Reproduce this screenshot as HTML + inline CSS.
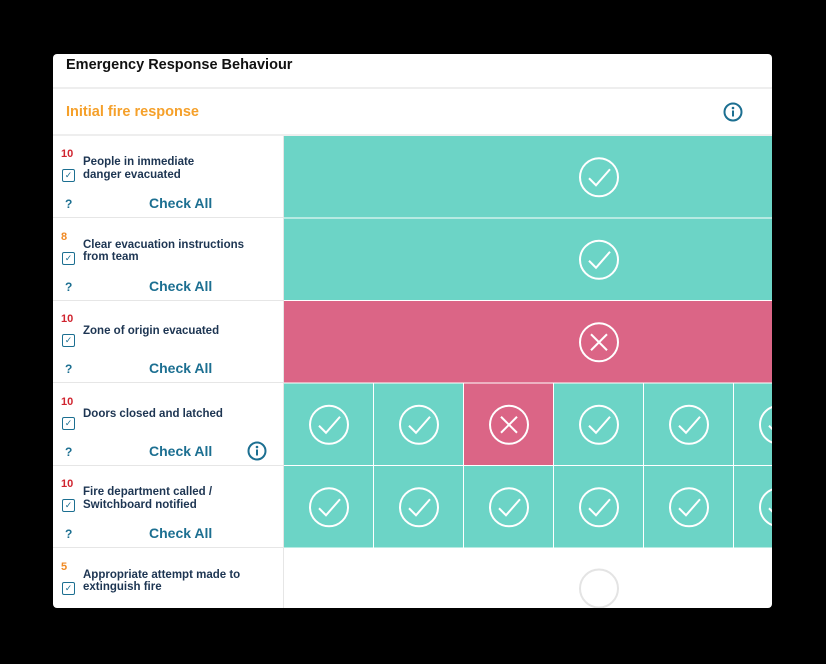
<!DOCTYPE html>
<html><head><meta charset="utf-8"><style>
*{margin:0;padding:0;box-sizing:border-box}
body{width:826px;height:664px;background:#000;position:relative;overflow:hidden;font-family:"Liberation Sans",sans-serif}
#card{position:absolute;left:53px;top:54px;width:719px;height:554px;background:#fff;border-radius:4px;overflow:hidden}
.abs{position:absolute}
.title{left:13px;top:3px;font-size:14.5px;font-weight:bold;color:#111}
.hdiv{left:0;width:719px;height:2px;background:#eee}
.sect{left:13px;top:50px;font-size:14.5px;font-weight:bold;color:#f5a02a}
.row{left:0;width:231px;height:82px;border-bottom:1px solid #e6e6e6}
.score{left:8px;top:12px;font-size:11px;font-weight:bold}
.label{left:30px;font-size:11.5px;font-weight:bold;color:#1d3552;line-height:12.5px}
.cb{left:9px;top:33px;width:13px;height:13px;border:1.5px solid #1c6f91;border-radius:2px;font-size:9px;color:#1c6f91;line-height:10px;text-align:center}
.q{left:12px;top:61px;font-size:12px;font-weight:bold;color:#1c6f91}
.ca{left:96px;top:59px;font-size:14px;font-weight:bold;color:#1c6f91}
</style></head><body>
<div id="card">
<div class="abs title">Emergency Response Behaviour</div>
<div class="abs hdiv" style="top:33px"></div>
<div class="abs sect">Initial fire response</div>
<svg class="abs" style="left:670px;top:48px" width="20" height="20"><circle cx="10" cy="10" r="8.5" fill="none" stroke="#1c6f91" stroke-width="2"/><circle cx="10" cy="6" r="1.3" fill="#1c6f91"/><rect x="9" y="8.5" width="2" height="6" fill="#1c6f91"/></svg>
<div class="abs hdiv" style="top:80px"></div>
<div class="abs" style="left:230px;top:82px;width:1px;height:472px;background:#e6e6e6"></div>
<div id="rows"></div>
<svg id="grid" class="abs" style="left:231px;top:82px" width="488" height="472"></svg>
</div>
<script>
const labels=[["People in immediate","danger evacuated"],["Clear evacuation instructions","from team"],["Zone of origin evacuated"],["Doors closed and latched"],["Fire department called /","Switchboard notified"],["Appropriate attempt made to","extinguish fire"]];
const scores=[10,8,10,10,10,5];
const states=[["ok"],["ok"],["x"],["ok","ok","x","ok","ok","ok"],["ok","ok","ok","ok","ok","ok"],[null]];
const rowH=82.5, colW=90;
const rows=document.getElementById('rows');
labels.forEach((l,i)=>{
 const r=document.createElement('div');r.className='abs row';r.style.top=(82+i*rowH)+'px';
 
 
 let h=`<div class="abs score" style="color:${scores[i]>=10?'#d0242f':'#f08a24'}">${scores[i]}</div>`;
 h+=`<div class="abs label" style="top:${l.length>1?20:24}px">${l.join('<br>')}</div>`;
 h+=`<div class="abs cb">✓</div>`;
 if(i<5){h+=`<div class="abs q">?</div><div class="abs ca">Check All</div>`;}
 if(i==3){h+=`<svg class="abs" style="left:194px;top:57px" width="20" height="20"><circle cx="10" cy="10" r="8.5" fill="none" stroke="#1c6f91" stroke-width="2"/><circle cx="10" cy="6" r="1.3" fill="#1c6f91"/><rect x="9" y="8.5" width="2" height="6" fill="#1c6f91"/></svg>`;}
 r.innerHTML=h;rows.appendChild(r);
});
const g=document.getElementById('grid');const NS='http://www.w3.org/2000/svg';
function icon(cx,cy,t){
 const c=document.createElementNS(NS,'circle');c.setAttribute('cx',cx);c.setAttribute('cy',cy);c.setAttribute('r',19);c.setAttribute('fill','none');c.setAttribute('stroke',t?'#fff':'#e4e4e4');c.setAttribute('stroke-width',2);
 
 
 g.appendChild(c);
 if(!t)return;
 const p=document.createElementNS(NS,'path');p.setAttribute('fill','none');p.setAttribute('stroke','#fff');p.setAttribute('stroke-width',2);
 p.setAttribute('d',t=='ok'?`M${cx-10} ${cy+1} L${cx-3} ${cy+8} L${cx+11} ${cy-8}`:`M${cx-8} ${cy-8} L${cx+8} ${cy+8} M${cx+8} ${cy-8} L${cx-8} ${cy+8}`);
 g.appendChild(p);
}
states.forEach((s,i)=>{
 const y=i*rowH;
 if(s.length==1){
  if(s[0]){const r=document.createElementNS(NS,'rect');r.setAttribute('x',0);r.setAttribute('y',y);r.setAttribute('width',488);r.setAttribute('height',rowH-1);r.setAttribute('fill',s[0]=='ok'?'#6cd4c6':'#db6586');
  
  
  g.appendChild(r);}
  icon(315,s[0]?y+rowH/2:y+40,s[0]);
 }else s.forEach((v,j)=>{
  const r=document.createElementNS(NS,'rect');r.setAttribute('x',j*colW);r.setAttribute('y',y);r.setAttribute('width',colW-1);r.setAttribute('height',rowH-1);r.setAttribute('fill',v=='ok'?'#6cd4c6':'#db6586');
  
  
  g.appendChild(r);icon(j*colW+45,y+rowH/2,v);
 });
});
</script>
</body></html>
